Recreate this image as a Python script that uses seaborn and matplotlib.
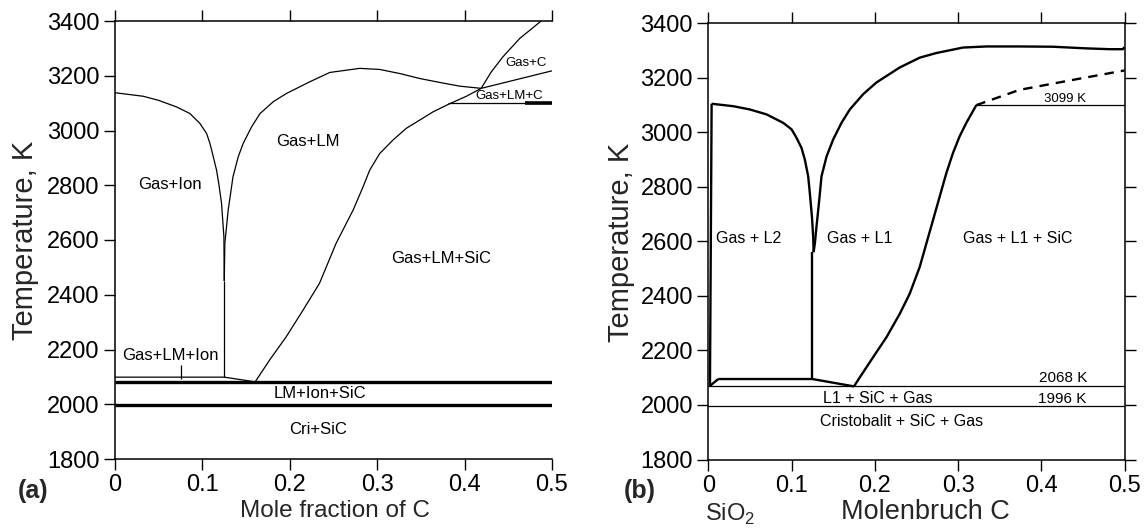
import numpy as np
import pandas as pd
import matplotlib
matplotlib.use("Agg")
import matplotlib.pyplot as plt
import seaborn as sns

# ---------------- data: panel (a) ----------------
a_ion_x = [0, 0.0324, 0.05, 0.0705, 0.0857, 0.0971, 0.1048, 0.1086, 0.112, 0.1162, 0.119, 0.1219, 0.1246, 0.125]
a_ion_t = [3138, 3125, 3110, 3086, 3062, 3026, 2989, 2953, 2910, 2855, 2800, 2734, 2612, 2450]
a_lm_x = [0.125, 0.1257, 0.1295, 0.135, 0.141, 0.1467, 0.1562, 0.166, 0.181, 0.196, 0.2229, 0.2457,
          0.28, 0.3029, 0.326, 0.3486, 0.3676, 0.3943, 0.419]
a_lm_t = [2450, 2588, 2709, 2831, 2904, 2953, 3013, 3062, 3105, 3135, 3178, 3212,
          3227, 3223, 3208, 3190, 3178, 3162, 3154]
a_sic_x = [0.16, 0.177, 0.196, 0.2152, 0.234, 0.253, 0.2724, 0.2838, 0.2914, 0.3029, 0.318, 0.3333,
           0.3486, 0.3638, 0.381, 0.402, 0.419]
a_sic_t = [2080, 2162, 2247, 2344, 2442, 2588, 2709, 2794, 2855, 2916, 2965, 3008,
           3038, 3068, 3095, 3125, 3154]
a_gc_x = [0.419, 0.4305, 0.4438, 0.463, 0.4876]
a_gc_t = [3154, 3214, 3269, 3336, 3400]
a_lmc_x = [0.419, 0.5]
a_lmc_t = [3154, 3218]
a_3099_x = [0.381, 0.5]
a_3099_t = [3099, 3099]
a_3099b_x = [0.4686, 0.5]
a_ion2_x = [0, 0.125, 0.16]
a_ion2_t = [2099, 2099, 2082]
a_vert_x = [0.125, 0.125]
a_vert_t = [2099, 2450]
a_tick_x = [0.075, 0.075]
a_tick_t = [2092, 2142]
a_eut_x = [0, 0.5]
a_eut1_t = [2080, 2080]
a_eut2_t = [1996, 1996]
a_labels = ["Gas+Ion", "Gas+LM", "Gas+LM+SiC", "Gas+C", "Gas+LM+C", "Gas+LM+Ion", "LM+Ion+SiC", "Cri+SiC"]
a_lab_x = [0.063, 0.221, 0.373, 0.47, 0.451, 0.0636, 0.234, 0.232]
a_lab_t = [2804, 2961, 2533, 3245, 3125, 2177, 2040, 1906]
a_lab_fs = [12, 12, 12, 9.5, 9.5, 12, 12, 12]

# ---------------- data: panel (b) ----------------
b_left_x = [0.004, 0.002]
b_left_t = [3104, 2070]
b_slash_x = [0.002, 0.012]
b_slash_t = [2070, 2095]
b_l2_x = [0.004, 0.03, 0.05, 0.07, 0.09, 0.1001, 0.106, 0.112, 0.116, 0.12, 0.122, 0.1245, 0.126, 0.1265]
b_l2_t = [3104, 3095, 3083, 3065, 3034, 3010, 2979, 2942, 2899, 2838, 2776, 2690, 2617, 2560]
b_l1_x = [0.1265, 0.128, 0.13, 0.1333, 0.136, 0.1421, 0.15, 0.16, 0.17, 0.186, 0.202, 0.23, 0.254,
          0.274, 0.306, 0.334, 0.374, 0.414, 0.454, 0.482, 0.498, 0.5]
b_l1_t = [2560, 2592, 2654, 2752, 2838, 2911, 2973, 3034, 3083, 3139, 3182, 3237, 3273,
          3290, 3310, 3314, 3314, 3313, 3307, 3304, 3304, 3312]
b_vert_x = [0.125, 0.125]
b_vert_t = [2095, 2560]
b_top_x = [0.012, 0.125, 0.175]
b_top_t = [2095, 2095, 2068]
b_sic_x = [0.175, 0.182, 0.198, 0.214, 0.23, 0.242, 0.254, 0.262, 0.27, 0.278, 0.286, 0.294, 0.302, 0.31, 0.322]
b_sic_t = [2068, 2101, 2175, 2248, 2334, 2408, 2506, 2592, 2678, 2764, 2850, 2924, 2985, 3034, 3099]
b_dash_x = [0.322, 0.374, 0.446, 0.5]
b_dash_t = [3099, 3155, 3196, 3226]
b_3099_x = [0.322, 0.5]
b_3099_t = [3099, 3099]
b_h_x = [0, 0.5]
b_2068_t = [2068, 2068]
b_1996_t = [1996, 1996]
b_labels = ["Gas + L2", "Gas + L1", "Gas + L1 + SiC", "3099 K", "2068 K", "1996 K",
            "L1 + SiC + Gas", "Cristobalit + SiC + Gas"]
b_lab_x = [0.048, 0.182, 0.372, 0.429, 0.426, 0.425, 0.204, 0.232]
b_lab_t = [2611, 2611, 2611, 3122, 2098, 2021, 2025, 1938]
b_lab_fs = [11.5, 11.5, 11.5, 9.5, 11, 11, 11.5, 11.5]

yticks = [1800, 2000, 2200, 2400, 2600, 2800, 3000, 3200, 3400]
xticks = [0, 0.1, 0.2, 0.3, 0.4, 0.5]
xticklabels = ["0", "0.1", "0.2", "0.3", "0.4", "0.5"]

# ---------------- drawing ----------------
sns.set_theme(style="white")
plt.rcParams["font.family"] = ["Liberation Sans", "DejaVu Sans"]
plt.rcParams["mathtext.fontset"] = "custom"
plt.rcParams["mathtext.rm"] = "Liberation Sans"

W, H = 1144, 529
fig = plt.figure(figsize=(W / 100, H / 100), dpi=100)
axa = fig.add_axes([115 / W, 1 - 459 / H, (552 - 115) / W, (459 - 21) / H])
axb = fig.add_axes([708.3 / W, 1 - 459.5 / H, (1124.5 - 708.3) / W, (459.5 - 23) / H])


def curve(ax, xs, ts, lw, dashed=False):
    sns.lineplot(x=xs, y=ts, ax=ax, sort=False, estimator=None, color="black",
                 linewidth=lw, solid_capstyle="butt", solid_joinstyle="round")
    if dashed:
        ax.lines[-1].set_dashes([4, 3])


# panel a
thin = 0.9
curve(axa, a_ion_x, a_ion_t, thin)
curve(axa, a_lm_x, a_lm_t, thin)
curve(axa, a_sic_x, a_sic_t, thin)
curve(axa, a_gc_x, a_gc_t, thin)
curve(axa, a_lmc_x, a_lmc_t, thin)
curve(axa, a_3099_x, a_3099_t, thin)
curve(axa, a_3099b_x, a_3099_t, 2.6)
curve(axa, a_ion2_x, a_ion2_t, thin)
curve(axa, a_vert_x, a_vert_t, thin)
curve(axa, a_tick_x, a_tick_t, thin)
curve(axa, a_eut_x, a_eut1_t, 2.4)
curve(axa, a_eut_x, a_eut2_t, 2.4)
for s, x, t, fs in zip(a_labels, a_lab_x, a_lab_t, a_lab_fs):
    axa.text(x, t, s, ha="center", va="center", fontsize=fs, color="black")

# panel b
bw = 1.7
curve(axb, b_left_x, b_left_t, bw)
curve(axb, b_slash_x, b_slash_t, bw)
curve(axb, b_l2_x, b_l2_t, bw)
curve(axb, b_l1_x, b_l1_t, bw)
curve(axb, b_vert_x, b_vert_t, bw)
curve(axb, b_top_x, b_top_t, bw)
curve(axb, b_sic_x, b_sic_t, bw)
curve(axb, b_dash_x, b_dash_t, 1.7, dashed=True)
curve(axb, b_3099_x, b_3099_t, 0.9)
curve(axb, b_h_x, b_2068_t, 0.9)
curve(axb, b_h_x, b_1996_t, 0.9)
for s, x, t, fs in zip(b_labels, b_lab_x, b_lab_t, b_lab_fs):
    axb.text(x, t, s, ha="center", va="center", fontsize=fs, color="black")

for ax, right in ((axa, False), (axb, True)):
    ax.set_xlim(0, 0.5)
    ax.set_ylim(1800, 3400)
    ax.set_xticks(xticks)
    ax.set_xticklabels(xticklabels)
    ax.set_yticks(yticks)
    ax.set_xlabel("")
    ax.set_ylabel("")
    ax.tick_params(axis="both", which="major", direction="out", length=8, width=1.0,
                   colors="black", labelsize=17, top=True, bottom=True, left=True,
                   right=right, labeltop=False, labelright=False, pad=3)
    for name, sp in ax.spines.items():
        sp.set_color("black")
        sp.set_linewidth(1.1)
    ax.spines["right"].set_visible(right)
    ax.grid(False)
    ax.set_facecolor("white")

fig.text(25 / W, 1 - 240 / H, "Temperature, K", rotation=90, ha="center", va="center", fontsize=21)
fig.text(621 / W, 1 - 242 / H, "Temperature, K", rotation=90, ha="center", va="center", fontsize=21)
fig.text(335 / W, 1 - 511 / H, "Mole fraction of C", ha="center", va="center", fontsize=17.5)
fig.text(925 / W, 1 - 512 / H, "Molenbruch C", ha="center", va="center", fontsize=19.5)
fig.text(730 / W, 1 - 514 / H, "SiO$_2$", ha="center", va="center", fontsize=17)
fig.text(33 / W, 1 - 491 / H, "(a)", ha="center", va="center", fontsize=18, fontweight="bold")
fig.text(640 / W, 1 - 491 / H, "(b)", ha="center", va="center", fontsize=18, fontweight="bold")

fig.savefig("out.png", dpi=100, facecolor="white")
